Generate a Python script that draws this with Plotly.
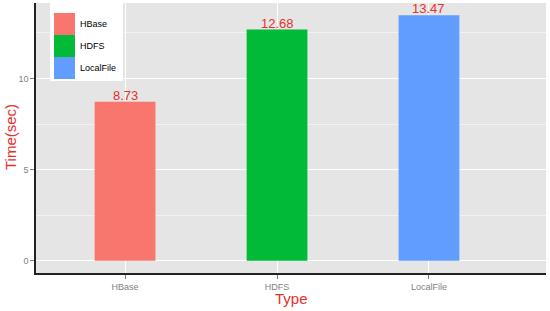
import plotly.graph_objects as go

categories = ["HBase", "HDFS", "LocalFile"]
times = [8.73, 12.68, 13.47]
labels = ["8.73", "12.68", "13.47"]
colors = ["#F8766D", "#00BA38", "#619CFF"]
y_ticks = [0, 5, 10]

RED = "#E8302E"
FONT = "Liberation Sans, Arial, sans-serif"

fig = go.Figure()
fig.add_trace(go.Bar(
    x=categories, y=times, marker=dict(color=colors, line=dict(width=0)),
    width=0.4, showlegend=False, hoverinfo="skip",
))

# plot-area geometry in pixels (for the hand-drawn ggplot-style legend)
W, H = 550, 311
L, R, T, B = 36, 4, 3, 38
pw, ph = W - L - R, H - T - B
px = lambda x: (x - L) / pw
py = lambda y: (H - B - y) / ph

annotations = []
# value labels above bars (data coordinates)
for cat, val, lab in zip(categories, times, labels):
    annotations.append(dict(x=cat, y=val, xref="x", yref="y", text=lab, showarrow=False,
                            xanchor="center", yanchor="bottom", yshift=-3,
                            font=dict(size=13, color=RED, family=FONT)))

shapes = [dict(type="rect", xref="paper", yref="paper",
               x0=px(50), x1=px(123), y0=py(81), y1=py(3),
               fillcolor="white", line=dict(width=0), layer="above")]
row_top = 13
row_h = 22
for i, (cat, col) in enumerate(zip(categories, colors)):
    y0 = row_top + i * row_h
    shapes.append(dict(type="rect", xref="paper", yref="paper",
                       x0=px(54), x1=px(75), y0=py(y0 + row_h), y1=py(y0),
                       fillcolor=col, line=dict(width=0), layer="above"))
    annotations.append(dict(x=px(78), y=py(y0 + row_h / 2), xref="paper", yref="paper",
                            text=cat, showarrow=False, xanchor="left", yanchor="middle",
                            font=dict(size=9, color="black", family=FONT)))

# axis titles
annotations.append(dict(x=px(291), y=py(298), xref="paper", yref="paper", text="Type",
                        showarrow=False, xanchor="center", yanchor="middle",
                        font=dict(size=15, color=RED, family=FONT)))
annotations.append(dict(x=px(10), y=py(137), xref="paper", yref="paper", text="Time(sec)",
                        showarrow=False, xanchor="center", yanchor="middle", textangle=-90,
                        font=dict(size=15, color=RED, family=FONT)))

fig.update_layout(
    width=W, height=H,
    margin=dict(l=L, r=R, t=T, b=B),
    paper_bgcolor="white", plot_bgcolor="#E5E5E5",
    font=dict(family=FONT),
    shapes=shapes, annotations=annotations,
    xaxis=dict(
        range=[-0.586, 2.77], showgrid=True, gridcolor="white", gridwidth=1,
        ticks="outside", ticklen=4, tickcolor="#7f7f7f",
        tickfont=dict(size=9, color="#7f7f7f"),
        showline=True, linecolor="#222222", linewidth=1.5,
        zeroline=False, automargin=False,
    ),
    yaxis=dict(
        range=[-0.67, 14.14], tickvals=y_ticks, showgrid=True, gridcolor="white", gridwidth=1,
        minor=dict(dtick=2.5, tick0=0, showgrid=True, gridcolor="#F2F2F2", gridwidth=0.5),
        ticks="outside", ticklen=4, tickcolor="#7f7f7f",
        tickfont=dict(size=9, color="#7f7f7f"),
        showline=True, linecolor="#222222", linewidth=1.5,
        zeroline=False, automargin=False,
    ),
)

fig.write_html("out.html", config={"displayModeBar": False},
               post_script="document.body.style.margin='0px';")
